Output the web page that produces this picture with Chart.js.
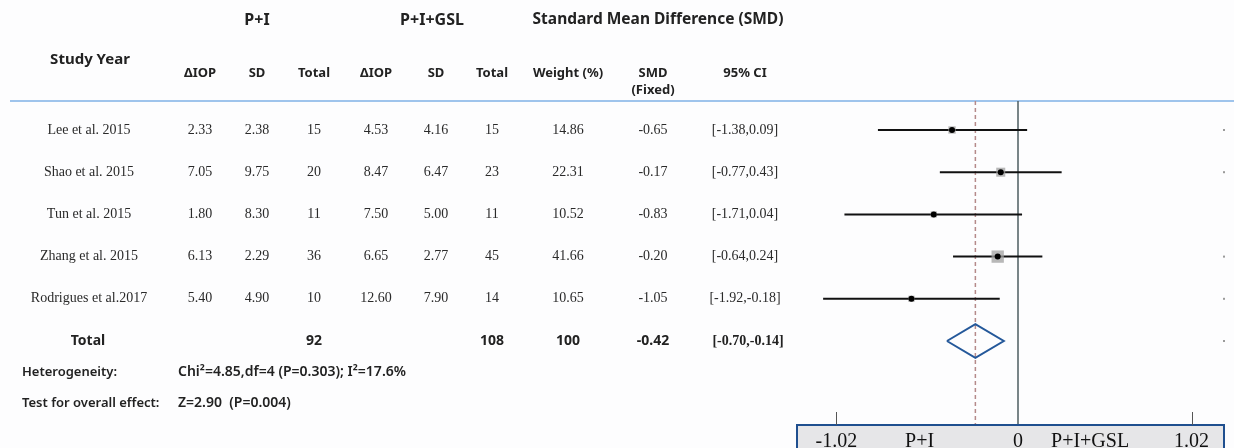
<!DOCTYPE html>
<html>
<head>
<meta charset="utf-8">
<script src="https://cdn.jsdelivr.net/npm/chart.js@4.4.1/dist/chart.umd.min.js"></script>
<style>
  html, body { margin: 0; padding: 0; background: #fdfdfe; }
  #wrap { position: relative; width: 1234px; height: 448px; }
</style>
</head>
<body>
<div id="wrap"><canvas id="forest" width="1234" height="448"></canvas></div>
<script>
// study data
const studies = ["Lee et al. 2015", "Shao et al. 2015", "Tun et al. 2015", "Zhang et al. 2015", "Rodrigues et al.2017"];
const piIop = [2.33, 7.05, 1.80, 6.13, 5.40];
const piSd = [2.38, 9.75, 8.30, 2.29, 4.90];
const piTotal = [15, 20, 11, 36, 10];
const gslIop = [4.53, 8.47, 7.50, 6.65, 12.60];
const gslSd = [4.16, 6.47, 5.00, 2.77, 7.90];
const gslTotal = [15, 23, 11, 45, 14];
const weights = [14.86, 22.31, 10.52, 41.66, 10.65];
const smd = [-0.65, -0.17, -0.83, -0.20, -1.05];
const ciLow = [-1.38, -0.77, -1.71, -0.64, -1.92];
const ciHigh = [0.09, 0.43, 0.04, 0.24, -0.18];

// pooled
const totalPI = 92;
const totalGSL = 108;
const totalWeight = 100;
const pooledSmd = -0.42;
const pooledLow = -0.70;
const pooledHigh = -0.14;

// axis text
const axisTickValues = [-1.79, 0, 1.71];
const axisTickLabels = ["-1.02", "0", "1.02"];
const sideLabels = ["P+I", "P+I+GSL"];
const sideLabelValues = [-0.97, 0.71];

const heterogeneity = "Chi\u00b2=4.85,df=4 (P=0.303); I\u00b2=17.6%";
const overallEffect = "Z=2.90  (P=0.004)";

const totalRow = studies.length;
const fmt = (v) => v.toFixed(2);
const ciText = (lo, hi) => "[" + fmt(lo) + "," + fmt(hi) + "]";

// column centres of the table (layout only)
const col = { study: 89, piIop: 200, piSd: 257, piTotal: 314, gIop: 376, gSd: 436, gTotal: 492, weight: 568, smd: 653, ci: 745 };

const SANS = "'Noto Sans', 'Open Sans', sans-serif";
const SERIF = "'Liberation Serif', 'DejaVu Serif', serif";

const tablePlugin = {
  id: "forestTable",
  beforeDatasetsDraw(chart) {
    const { ctx, chartArea } = chart;
    const x = chart.scales.x;
    ctx.save();
    // header rule
    ctx.strokeStyle = "#7fb0e6";
    ctx.lineWidth = 1.5;
    ctx.beginPath();
    ctx.moveTo(10, chartArea.top);
    ctx.lineTo(1234, chartArea.top);
    ctx.stroke();
    // pooled estimate dashed line
    const px = x.getPixelForValue(pooledSmd);
    ctx.strokeStyle = "#b58a8a";
    ctx.lineWidth = 1.5;
    ctx.setLineDash([4, 3]);
    ctx.beginPath();
    ctx.moveTo(px, chartArea.top);
    ctx.lineTo(px, chartArea.bottom);
    ctx.stroke();
    ctx.setLineDash([]);
    // line of no effect
    const zx = x.getPixelForValue(0);
    ctx.strokeStyle = "#4d5c61";
    ctx.lineWidth = 1.5;
    ctx.beginPath();
    ctx.moveTo(zx, chartArea.top);
    ctx.lineTo(zx, chartArea.bottom);
    ctx.stroke();
    ctx.restore();
  },
  afterDraw(chart) {
    const { ctx, chartArea } = chart;
    const x = chart.scales.x;
    const y = chart.scales.y;
    ctx.save();
    ctx.textAlign = "center";
    ctx.textBaseline = "middle";
    ctx.fillStyle = "#222";

    // headers
    ctx.font = "bold 16px " + SANS;
    ctx.fillText("P+I", 257, 20);
    ctx.fillText("P+I+GSL", 432, 20);
    ctx.font = "bold 15.5px " + SANS;
    ctx.fillText("Standard Mean Difference (SMD)", 658, 20);
    ctx.font = "bold 15px " + SANS;
    ctx.fillText("Study Year", 90, 60);
    ctx.font = "bold 13px " + SANS;
    ctx.fillText("\u0394IOP", col.piIop, 73);
    ctx.fillText("SD", col.piSd, 73);
    ctx.fillText("Total", col.piTotal, 73);
    ctx.fillText("\u0394IOP", col.gIop, 73);
    ctx.fillText("SD", col.gSd, 73);
    ctx.fillText("Total", col.gTotal, 73);
    ctx.fillText("Weight (%)", col.weight, 73);
    ctx.fillText("SMD", col.smd, 73);
    ctx.fillText("(Fixed)", col.smd, 90);
    ctx.fillText("95% CI", col.ci, 73);

    // study rows
    ctx.fillStyle = "#2a2a2a";
    ctx.font = "14px " + SERIF;
    studies.forEach((name, i) => {
      const ry = y.getPixelForValue(i);
      ctx.fillText(name, col.study, ry);
      ctx.fillText(fmt(piIop[i]), col.piIop, ry);
      ctx.fillText(fmt(piSd[i]), col.piSd, ry);
      ctx.fillText(String(piTotal[i]), col.piTotal, ry);
      ctx.fillText(fmt(gslIop[i]), col.gIop, ry);
      ctx.fillText(fmt(gslSd[i]), col.gSd, ry);
      ctx.fillText(String(gslTotal[i]), col.gTotal, ry);
      ctx.fillText(fmt(weights[i]), col.weight, ry);
      ctx.fillText(fmt(smd[i]), col.smd, ry);
      ctx.fillText(ciText(ciLow[i], ciHigh[i]), col.ci, ry);
    });

    // total row
    const ty = y.getPixelForValue(totalRow);
    ctx.fillStyle = "#222";
    ctx.font = "bold 14px " + SANS;
    ctx.fillText("Total", 88, ty);
    ctx.fillText(String(totalPI), col.piTotal, ty);
    ctx.fillText(String(totalGSL), col.gTotal, ty);
    ctx.fillText(String(totalWeight), col.weight, ty);
    ctx.fillText(fmt(pooledSmd), col.smd, ty);
    ctx.font = "bold 14px " + SERIF;
    ctx.fillText(ciText(pooledLow, pooledHigh), col.ci + 3, ty);

    // heterogeneity / overall effect
    ctx.textAlign = "left";
    ctx.font = "600 13px " + SANS;
    ctx.fillText("Heterogeneity:", 22, 372);
    ctx.fillText("Test for overall effect:", 22, 403);
    ctx.font = "600 14px " + SANS;
    ctx.fillText(heterogeneity, 178, 372);
    ctx.fillText(overallEffect, 178, 403);

    // small edge marks
    ctx.fillStyle = "#9a9a9a";
    [0, 1, 3, 4, 5].forEach((r) => {
      ctx.fillRect(chartArea.right - 1, y.getPixelForValue(r) - 1, 2, 2);
    });

    // bottom axis box
    const bTop = chartArea.bottom;
    ctx.fillStyle = "#e6e6e8";
    ctx.fillRect(chartArea.left, bTop, chartArea.right - chartArea.left, 30);
    ctx.strokeStyle = "#1f4f8f";
    ctx.lineWidth = 2;
    ctx.strokeRect(chartArea.left, bTop, chartArea.right - chartArea.left, 30);

    // ticks
    ctx.strokeStyle = "#555";
    ctx.lineWidth = 1;
    axisTickValues.forEach((v) => {
      if (v === 0) return;
      const tx = Math.round(x.getPixelForValue(v)) + 0.5;
      ctx.beginPath();
      ctx.moveTo(tx, bTop - 13);
      ctx.lineTo(tx, bTop);
      ctx.stroke();
    });

    ctx.fillStyle = "#111";
    ctx.textAlign = "center";
    ctx.textBaseline = "alphabetic";
    ctx.font = "20px " + SERIF;
    axisTickValues.forEach((v, i) => {
      ctx.fillText(axisTickLabels[i], x.getPixelForValue(v), 447);
    });
    sideLabels.forEach((s, i) => {
      ctx.fillText(s, x.getPixelForValue(sideLabelValues[i]), 447);
    });
    ctx.restore();
  },
};

const ciSets = studies.map((name, i) => ({
  label: name,
  data: [{ x: ciLow[i], y: i }, { x: ciHigh[i], y: i }],
  showLine: true,
  borderColor: "#111",
  borderWidth: 2,
  pointRadius: 0,
  order: 3,
}));

const boxSet = {
  label: "weight",
  data: smd.map((v, i) => ({ x: v, y: i })),
  pointStyle: "rect",
  pointRadius: weights.map((w) => 1.35 * Math.sqrt(w)),
  backgroundColor: "rgba(160,160,160,0.75)",
  borderWidth: 0,
  order: 2,
};

const dotSet = {
  label: "SMD",
  data: smd.map((v, i) => ({ x: v, y: i })),
  pointRadius: 3,
  backgroundColor: "#000",
  borderWidth: 0,
  order: 1,
};

const diamondSet = {
  label: "pooled",
  data: [
    { x: pooledLow, y: totalRow },
    { x: pooledSmd, y: totalRow - 0.4 },
    { x: pooledHigh, y: totalRow },
    { x: pooledSmd, y: totalRow + 0.4 },
    { x: pooledLow, y: totalRow },
  ],
  showLine: true,
  fill: false,
  borderColor: "#24589a",
  borderWidth: 2,
  pointRadius: 0,
  order: 0,
};

const zeroX = 1018;
const unitPx = 101.5;
const left = 797;
const right = 1224;

new Chart(document.getElementById("forest").getContext("2d"), {
  type: "scatter",
  data: { datasets: [...ciSets, boxSet, dotSet, diamondSet] },
  options: {
    responsive: false,
    animation: false,
    layout: { padding: { left: left, right: 1234 - right, top: 101, bottom: 23 } },
    plugins: { legend: { display: false }, tooltip: { enabled: false } },
    scales: {
      x: { type: "linear", display: false, min: (left - zeroX) / unitPx, max: (right - zeroX) / unitPx },
      y: { type: "linear", display: false, reverse: true, min: -0.687, max: 6.99 },
    },
  },
  plugins: [tablePlugin],
});
</script>
</body>
</html>
